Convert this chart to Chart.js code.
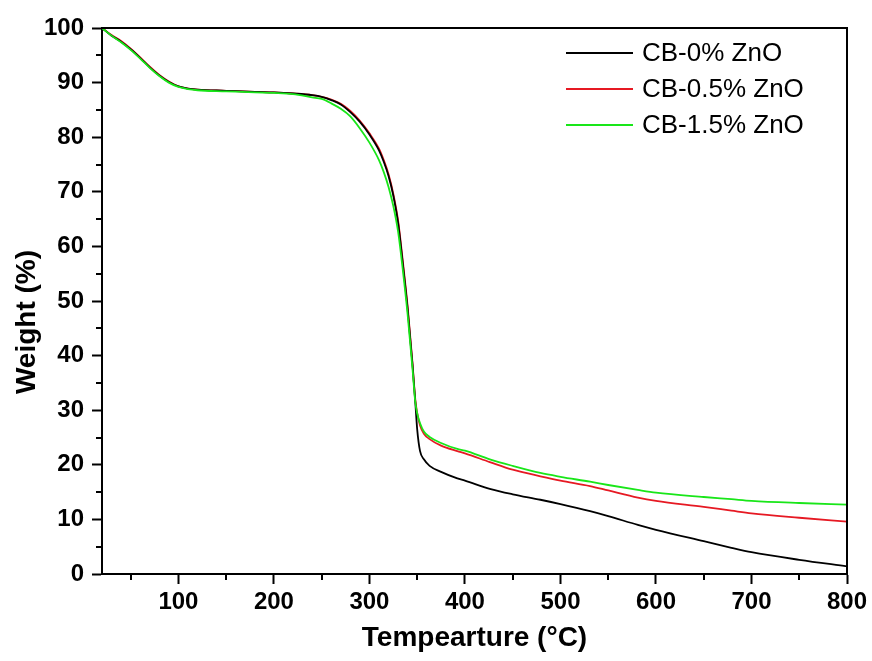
<!DOCTYPE html>
<html>
<head>
<meta charset="utf-8">
<script src="https://cdn.jsdelivr.net/npm/chart.js@4/dist/chart.umd.min.js"></script>
<style>
  html, body { margin: 0; padding: 0; background: #fff; }
  #wrap { width: 872px; height: 661px; }
</style>
</head>
<body>
<div id="wrap"><canvas id="tgaChart"></canvas></div>
<script>
// TGA curves, CB with ZnO loading
var temps = [20,30,40,50,60,70,80,90,100,110,120,150,180,200,220,240,250,260,270,280,290,300,310,315,320,325,330,335,340,345,348,350,353,357,363,375,392,400,426,450,479,500,531,550,581,600,650,679,700,750,800];

var weight0 = [100,98.6,97.5,96.1,94.5,92.8,91.3,90.1,89.3,88.9,88.7,88.5,88.3,88.2,88.0,87.7,87.4,86.8,86.0,84.6,82.8,80.5,77.6,75.5,72.9,69.3,64.3,56.7,48.5,38.5,31.5,26.5,22.5,21.0,19.8,18.7,17.5,17.1,15.6,14.6,13.6,12.8,11.5,10.6,9.0,8.1,6.0,4.8,4.0,2.6,1.4];

var weight05 = [100,98.7,97.6,96.2,94.6,92.9,91.4,90.2,89.3,88.9,88.7,88.5,88.3,88.2,88.0,87.7,87.4,86.9,86.1,84.8,83.0,80.7,77.9,75.8,73.2,69.6,64.7,57.2,49.0,38.8,32.0,29.5,27.2,25.7,24.7,23.5,22.5,22.1,20.5,19.1,17.9,17.1,16.1,15.3,14.0,13.4,12.3,11.6,11.1,10.3,9.6];

var weight15 = [100,98.6,97.4,96.0,94.4,92.7,91.2,90.0,89.2,88.8,88.6,88.4,88.2,88.1,87.9,87.3,87.0,86.2,85.2,83.8,81.6,79.0,75.8,73.6,70.9,67.4,62.7,55.6,47.5,37.8,31.5,29.4,27.6,26.1,25.1,24.0,22.9,22.6,21.0,19.8,18.5,17.8,16.9,16.3,15.4,14.9,14.1,13.7,13.4,13.0,12.7];

var seriesNames = ['CB-0% ZnO', 'CB-0.5% ZnO', 'CB-1.5% ZnO'];
var seriesColors = ['#000000', 'rgb(230,25,35)', 'rgb(25,230,25)'];

var xTicks = [100,200,300,400,500,600,700,800];
var xMinor = [50,150,250,350,450,550,650,750];
var yTicks = [0,10,20,30,40,50,60,70,80,90,100];
var yMinor = [5,15,25,35,45,55,65,75,85,95];

function pts(arr) {
    return temps.map(function(t, i) { return {x: t, y: arr[i]}; });
}

var FONT = "'Liberation Sans', Arial, sans-serif";

// frame (top/right), minor ticks, y title and the legend
var framePlugin = {
    id: 'frame',
    afterDraw: function(chart) {
        var c = chart.ctx, a = chart.chartArea;
        var xs = chart.scales.x, ys = chart.scales.y;
        c.save();
        c.strokeStyle = '#000';
        c.lineWidth = 2;
        c.beginPath();
        c.moveTo(a.left, a.top); c.lineTo(a.right, a.top);
        c.lineTo(a.right, a.bottom);
        c.stroke();

        c.beginPath();
        xMinor.forEach(function(v) {
            var px = Math.round(xs.getPixelForValue(v));
            c.moveTo(px, a.bottom); c.lineTo(px, a.bottom + 6);
        });
        yMinor.forEach(function(v) {
            var py = Math.round(ys.getPixelForValue(v));
            c.moveTo(a.left, py); c.lineTo(a.left - 6, py);
        });
        c.stroke();

        // y title, sits a bit below the middle as in the original
        c.save();
        c.translate(27, 322);
        c.rotate(-Math.PI / 2);
        c.font = 'bold 28px ' + FONT;
        c.textAlign = 'center';
        c.textBaseline = 'middle';
        c.fillStyle = '#000';
        c.fillText('Weight (%)', 0, 0);
        c.restore();

        // legend
        c.font = '26px ' + FONT;
        c.textBaseline = 'middle';
        c.fillStyle = '#000';
        chart.data.datasets.forEach(function(ds, i) {
            var y = a.top + 25 + i * 36;
            c.strokeStyle = ds.borderColor;
            c.lineWidth = 2;
            c.beginPath();
            c.moveTo(a.right - 281, y); c.lineTo(a.right - 214, y);
            c.stroke();
            c.fillText(ds.label, a.right - 205, y + 1);
        });
        c.restore();
    }
};

var ctx = document.getElementById('tgaChart').getContext('2d');
var tgaChart = new Chart(ctx, {
    type: 'line',
    data: {
        datasets: [
            {label: seriesNames[0], data: pts(weight0), borderColor: seriesColors[0], order: 1},
            {label: seriesNames[1], data: pts(weight05), borderColor: seriesColors[1], order: 2},
            {label: seriesNames[2], data: pts(weight15), borderColor: seriesColors[2], order: 0}
        ]
    },
    options: {
        responsive: true,
        maintainAspectRatio: false,
        animation: false,
        parsing: false,
        layout: { padding: { left: 0, right: 25, top: 28, bottom: 0 } },
        elements: {
            point: { radius: 0 },
            line: { borderWidth: 1.8, cubicInterpolationMode: 'monotone', fill: false }
        },
        plugins: {
            legend: { display: false },
            tooltip: { enabled: false }
        },
        scales: {
            x: {
                type: 'linear',
                min: 20,
                max: 800,
                afterBuildTicks: function(s) { s.ticks = xTicks.map(function(v) { return {value: v}; }); },
                afterFit: function(s) { s.height = 87; },
                border: { display: true, color: '#000', width: 2 },
                grid: { drawOnChartArea: false, drawTicks: true, tickLength: 10, tickColor: '#000', tickWidth: 2 },
                ticks: { color: '#000', padding: 4, maxRotation: 0, font: { family: FONT, size: 24, weight: 'bold' } },
                title: { display: true, text: 'Tempearture (°C)', color: '#000', padding: { top: 0, bottom: 6 },
                         font: { family: FONT, size: 28, weight: 'bold' } }
            },
            y: {
                min: 0,
                max: 100,
                afterBuildTicks: function(s) { s.ticks = yTicks.map(function(v) { return {value: v}; }); },
                afterFit: function(s) { s.width = 102; },
                border: { display: true, color: '#000', width: 2 },
                grid: { drawOnChartArea: false, drawTicks: true, tickLength: 10, tickColor: '#000', tickWidth: 2 },
                ticks: { color: '#000', padding: 8, font: { family: FONT, size: 24, weight: 'bold' } },
                title: { display: false }
            }
        }
    },
    plugins: [framePlugin]
});
</script>
</body>
</html>
